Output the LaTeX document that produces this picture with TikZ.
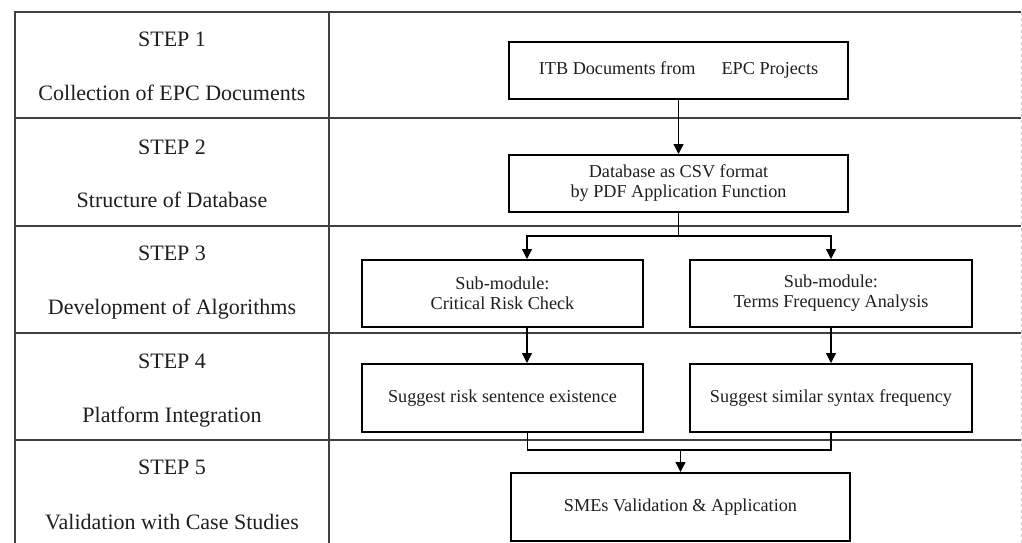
\documentclass[tikz,border=0pt]{standalone}
\usepackage{fontspec}
\setmainfont{Liberation Serif}
\usetikzlibrary{arrows.meta}
\begin{document}
\begin{tikzpicture}[x=1pt,y=-1pt,
  grid/.style={draw=black!75,line width=1.5pt},
  frame/.style={draw=black!20,line width=0.8pt,dashed},
  box/.style={draw=black,line width=2pt,fill=white,align=center,inner sep=0pt,
    font=\fontsize{18.2}{20}\selectfont,text=black!88},
  steplabel/.style={font=\fontsize{22}{26}\selectfont,text=black!88,anchor=base},
  conn/.style={draw=black,line width=1.3pt,-{Triangle[width=10pt,length=10pt]}},
  link/.style={draw=black,line width=1.3pt}
]
\useasboundingbox (0,0) rectangle (1022,543);
\fill[white] (0,0) rectangle (1022,543);
% table
\draw[frame] (1021,12) -- (1021,543);
\draw[grid] (15,12) -- (15,543);
\draw[grid] (329,12) -- (329,543);
\foreach \yy in {12,118,226,333,440} \draw[grid] (14.25,\yy) -- (1021,\yy);
% step labels
\node[steplabel] (s1) at (172,47) {STEP 1};
\node[steplabel] (t1) at (172,100) {Collection of EPC Documents};
\node[steplabel] (s2) at (172,154) {STEP 2};
\node[steplabel] (t2) at (172,207) {Structure of Database};
\node[steplabel] (s3) at (172,260) {STEP 3};
\node[steplabel] (t3) at (172,314) {Development of Algorithms};
\node[steplabel] (s4) at (172,368) {STEP 4};
\node[steplabel] (t4) at (172,422) {Platform Integration};
\node[steplabel] (s5) at (172,474) {STEP 5};
\node[steplabel] (t5) at (172,529) {Validation with Case Studies};
% boxes
\node[box,minimum width=339pt,minimum height=57pt] (b1) at (678.5,70.5) {ITB Documents from\hspace{26pt}EPC Projects};
\node[box,minimum width=339pt,minimum height=57pt] (b2) at (678.5,183.5) {Database as CSV format\\by PDF Application Function};
\node[box,minimum width=281pt,minimum height=67pt] (b3l) at (502.5,293.5) {Sub-module:\\Critical Risk Check};
\node[box,minimum width=282pt,minimum height=67pt] (b3r) at (831,293.5) {Sub-module:\\Terms Frequency Analysis};
\node[box,minimum width=281pt,minimum height=68pt] (b4l) at (502.5,398) {Suggest risk sentence existence};
\node[box,minimum width=282pt,minimum height=68pt] (b4r) at (831,398) {Suggest similar syntax frequency};
\node[box,minimum width=339pt,minimum height=68pt] (b5) at (680.5,507) {SMEs Validation \& Application};
% connectors
\coordinate (j1) at (678.5,236);
\coordinate (j2) at (680.5,450);
\draw[conn] (b1.south) -- (b2.north);
\draw[link] (b2.south) -- (j1);
\draw[conn] (j1) -| ([xshift=24.5pt]b3l.north);
\draw[conn] (j1) -| (b3r.north);
\draw[conn] ([xshift=24.5pt]b3l.south) -- ([xshift=24.5pt]b4l.north);
\draw[conn] (b3r.south) -- (b4r.north);
\draw[link] ([xshift=25pt]b4l.south) |- (j2) -| (b4r.south);
\draw[conn] (j2) -- (b5.north);
\end{tikzpicture}
\end{document}
